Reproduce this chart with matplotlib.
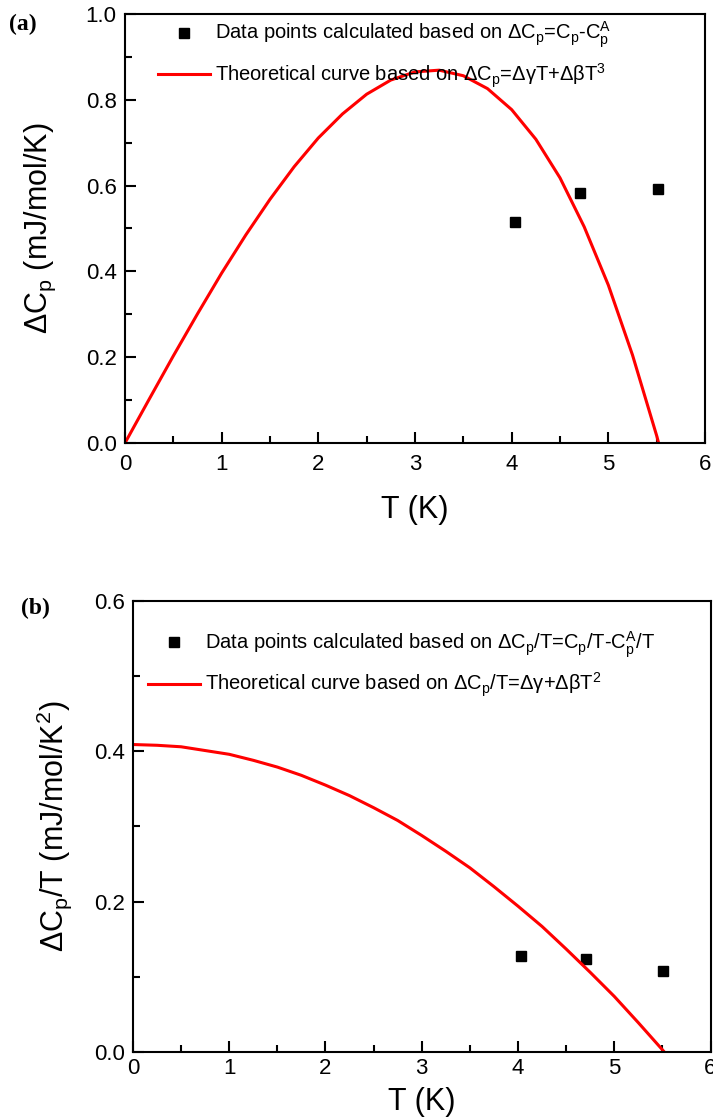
import matplotlib
matplotlib.use("Agg")
import matplotlib.pyplot as plt
from matplotlib.ticker import MultipleLocator, FormatStrFormatter

plt.rcParams['font.family'] = ['Liberation Sans', 'DejaVu Sans']
plt.rcParams['mathtext.fontset'] = 'custom'
plt.rcParams['mathtext.rm'] = 'Liberation Sans'
plt.rcParams['mathtext.it'] = 'Liberation Sans'

# measured points
t_pts = [4.03, 4.71, 5.51]
dc_pts = [0.515, 0.582, 0.592]
dct_pts = [0.128, 0.124, 0.108]

# theoretical curves
t_curve = [0, 0.25, 0.5, 0.75, 1.0, 1.25, 1.5, 1.75, 2.0, 2.25, 2.5, 2.75, 3.0,
           3.25, 3.5, 3.75, 4.0, 4.25, 4.5, 4.75, 5.0, 5.25, 5.5, 5.52]
dc_curve = [0, 0.102, 0.203, 0.301, 0.396, 0.485, 0.568, 0.644, 0.711, 0.767,
            0.813, 0.846, 0.865, 0.869, 0.856, 0.826, 0.777, 0.708, 0.618,
            0.504, 0.368, 0.205, 0.017, 0.0]
dct_curve = [0.409, 0.408, 0.406, 0.401, 0.396, 0.388, 0.379, 0.368, 0.355,
             0.341, 0.325, 0.308, 0.288, 0.267, 0.245, 0.220, 0.194, 0.167,
             0.137, 0.106, 0.074, 0.039, 0.003, 0.0]

fig = plt.figure(figsize=(7.13, 11.17), dpi=100)
ax1 = fig.add_axes([0.1753, 0.6034, 0.8135, 0.3841])
ax2 = fig.add_axes([0.1865, 0.0582, 0.8100, 0.4038])

def style(ax, ymax, ystep, xpad, lpad):
    ax.set_xlim(0, 6)
    ax.set_ylim(0, ymax)
    ax.xaxis.set_major_locator(MultipleLocator(1))
    ax.xaxis.set_minor_locator(MultipleLocator(0.5))
    ax.yaxis.set_major_locator(MultipleLocator(ystep))
    ax.yaxis.set_minor_locator(MultipleLocator(ystep / 2))
    ax.yaxis.set_major_formatter(FormatStrFormatter('%.1f'))
    ax.tick_params(which='both', direction='in', width=1.5, top=False, right=False,
                   labelsize=16)
    ax.tick_params(axis='x', pad=xpad)
    ax.tick_params(axis='y', pad=6)
    ax.tick_params(which='major', length=8)
    ax.tick_params(which='minor', length=5)
    for s in ax.spines.values():
        s.set_linewidth(1.5)
    ax.set_xlabel('T (K)', fontsize=22, labelpad=lpad)

leg_kw = dict(loc='upper left', frameon=False, fontsize=14.5, handlelength=2.6,
              handletextpad=0.25, borderaxespad=0.0, labelspacing=0.55)

ax1.plot(t_pts, dc_pts, 's', color='black', markersize=6.5,
         label=r'Data points calculated based on $\Delta$C$_\mathregular{p}$=C$_\mathregular{p}$-C$_\mathregular{p}^\mathregular{A}$')
ax1.plot(t_curve, dc_curve, '-', color='red', linewidth=2.2,
         label=r'Theoretical curve based on $\Delta$C$_\mathregular{p}$=$\Delta\gamma$T+$\Delta\beta$T$^\mathregular{3}$')
style(ax1, 1.0, 0.2, 8, 14)
ax1.set_ylabel(r'$\Delta$C$_\mathregular{p}$ (mJ/mol/K)', fontsize=22, labelpad=20)
ax1.legend(bbox_to_anchor=(0.043, 1.005), **leg_kw)

ax2.plot(t_pts, dct_pts, 's', color='black', markersize=6.5,
         label=r'Data points calculated based on $\Delta$C$_\mathregular{p}$/T=C$_\mathregular{p}$/T-C$_\mathregular{p}^\mathregular{A}$/T')
ax2.plot(t_curve, dct_curve, '-', color='red', linewidth=2.2,
         label=r'Theoretical curve based on $\Delta$C$_\mathregular{p}$/T=$\Delta\gamma$+$\Delta\beta$T$^\mathregular{2}$')
style(ax2, 0.6, 0.2, 4, 6)
ax2.set_ylabel(r'$\Delta$C$_\mathregular{p}$/T (mJ/mol/K$^\mathregular{2}$)', fontsize=22, labelpad=14)
ax2.legend(bbox_to_anchor=(0.012, 0.955), **leg_kw)

fig.text(0.012, 0.978, '(a)', fontsize=17, fontweight='bold', family='Liberation Serif', va='center')
fig.text(0.030, 0.455, '(b)', fontsize=17, fontweight='bold', family='Liberation Serif', va='center')

fig.savefig('out.png', dpi=100)
